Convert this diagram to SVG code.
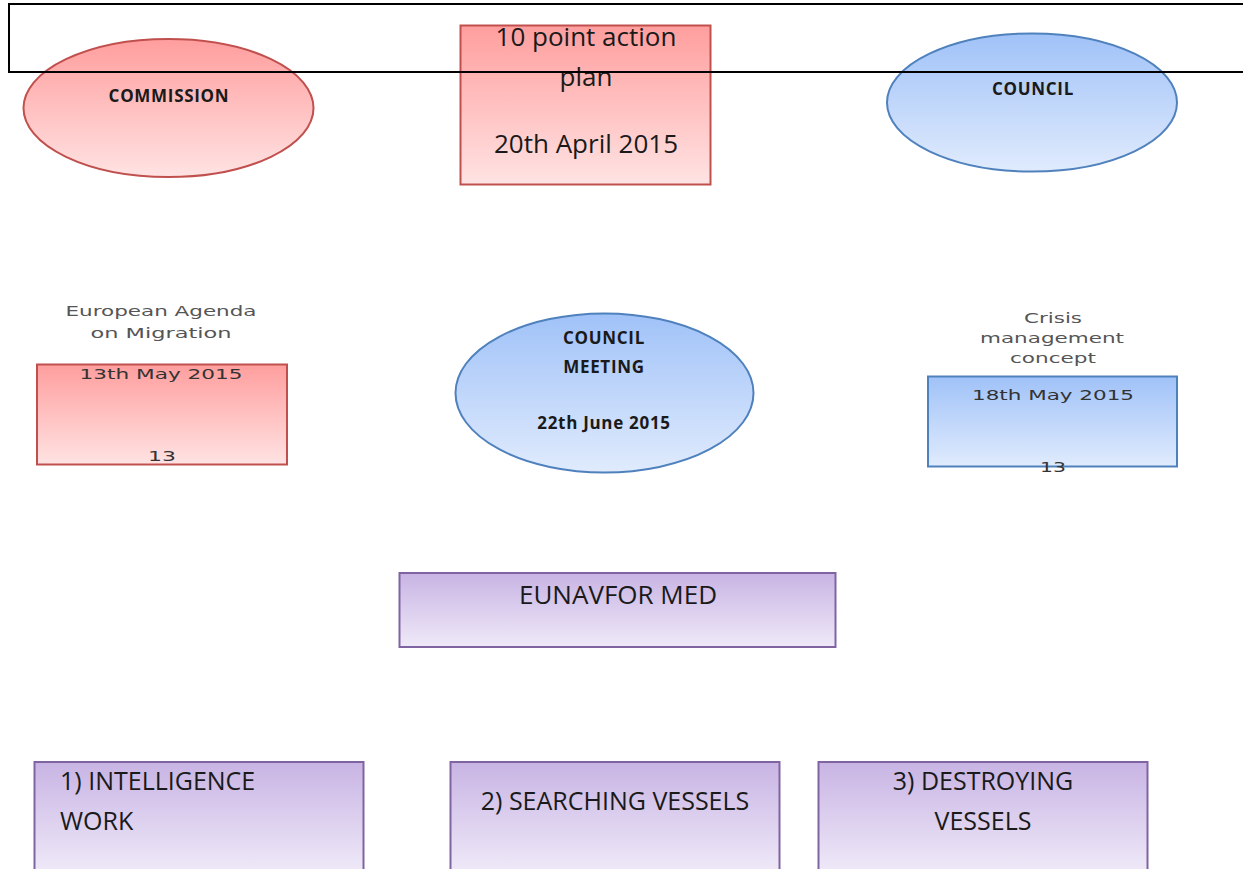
<svg xmlns="http://www.w3.org/2000/svg" width="1243" height="869" viewBox="0 0 1243 869">
<defs>
<linearGradient id="gRed" x1="0" y1="0" x2="0" y2="1"><stop offset="0" stop-color="#ff9e9e"/><stop offset="1" stop-color="#ffe3e3"/></linearGradient>
<linearGradient id="gBlue" x1="0" y1="0" x2="0" y2="1"><stop offset="0" stop-color="#a0c2f8"/><stop offset="1" stop-color="#e0ebfd"/></linearGradient>
<linearGradient id="gPurple" x1="0" y1="0" x2="0" y2="1"><stop offset="0" stop-color="#c8b4e4"/><stop offset="1" stop-color="#efe9f8"/></linearGradient>
<style>
.red{fill:url(#gRed);stroke:#c0504d;stroke-width:2}
.blue{fill:url(#gBlue);stroke:#4f81bd;stroke-width:2}
.purple{fill:url(#gPurple);stroke:#8064a2;stroke-width:2}
.t{font-family:"Open Sans","Liberation Sans",sans-serif;fill:#1a1a1a;text-anchor:middle;dominant-baseline:central}
.b{font-weight:bold;font-size:17px;letter-spacing:0.7px}
.big{font-size:26px}
.bot{font-size:25px}
.small{font-family:"DejaVu Sans",sans-serif;font-size:14px;fill:#555;text-anchor:middle;dominant-baseline:central}
.sm2{font-family:"DejaVu Sans",sans-serif;font-size:14px;fill:#333;text-anchor:middle;dominant-baseline:central}
</style>
</defs>
<rect width="1243" height="869" fill="#ffffff"/>
<g id="commission">
<ellipse class="red" cx="168.5" cy="108" rx="145" ry="69"/>
<text class="t b" x="169" y="95">COMMISSION</text>
</g>
<g id="action-plan">
<rect class="red" x="460.5" y="25.5" width="250" height="159"/>
<text class="t big" x="586" y="36">10 point action</text>
<text class="t big" x="586" y="76">plan</text>
<text class="t big" x="586" y="143">20th April 2015</text>
</g>
<g id="council">
<ellipse class="blue" cx="1032" cy="102.5" rx="145" ry="69"/>
<text class="t b" x="1033" y="88">COUNCIL</text>
</g>
<g id="agenda">
<text class="small" x="161" y="311" textLength="191" lengthAdjust="spacingAndGlyphs">European Agenda</text>
<text class="small" x="161" y="333" textLength="141" lengthAdjust="spacingAndGlyphs">on Migration</text>
<rect class="red" x="37" y="364.5" width="250" height="100"/>
<text class="sm2" x="161" y="374" textLength="163" lengthAdjust="spacingAndGlyphs">13th May 2015</text>
<text class="sm2" x="162" y="456" textLength="28" lengthAdjust="spacingAndGlyphs">13</text>
</g>
<g id="council-meeting">
<ellipse class="blue" cx="604.5" cy="393" rx="149" ry="79.5"/>
<text class="t b" x="604" y="337">COUNCIL</text>
<text class="t b" x="604" y="366">MEETING</text>
<text class="t b" x="604" y="422">22th June 2015</text>
</g>
<g id="crisis">
<text class="small" x="1053" y="318" textLength="58" lengthAdjust="spacingAndGlyphs">Crisis</text>
<text class="small" x="1052" y="338" textLength="144" lengthAdjust="spacingAndGlyphs">management</text>
<text class="small" x="1053" y="358" textLength="86" lengthAdjust="spacingAndGlyphs">concept</text>
<rect class="blue" x="928" y="376.5" width="249" height="90"/>
<text class="sm2" x="1053" y="395" textLength="162" lengthAdjust="spacingAndGlyphs">18th May 2015</text>
<text class="sm2" x="1053" y="467" textLength="26" lengthAdjust="spacingAndGlyphs">13</text>
</g>
<g id="eunavfor">
<rect class="purple" x="399.5" y="573" width="436" height="74"/>
<text class="t big" x="618" y="594">EUNAVFOR MED</text>
</g>
<g id="intelligence">
<rect class="purple" x="34.5" y="762" width="329" height="110"/>
<text class="t bot" x="60" y="780" style="text-anchor:start">1) INTELLIGENCE</text>
<text class="t bot" x="60" y="820" style="text-anchor:start">WORK</text>
</g>
<g id="searching">
<rect class="purple" x="450.5" y="762" width="329" height="110"/>
<text class="t bot" x="615" y="800">2) SEARCHING VESSELS</text>
</g>
<g id="destroying">
<rect class="purple" x="818.5" y="762" width="329" height="110"/>
<text class="t bot" x="983" y="780">3) DESTROYING</text>
<text class="t bot" x="983" y="820">VESSELS</text>
</g>
<g id="connectors"></g>
<g id="frame">
<rect x="9" y="4" width="1250" height="68" fill="none" stroke="#000000" stroke-width="2"/>
</g>
</svg>
